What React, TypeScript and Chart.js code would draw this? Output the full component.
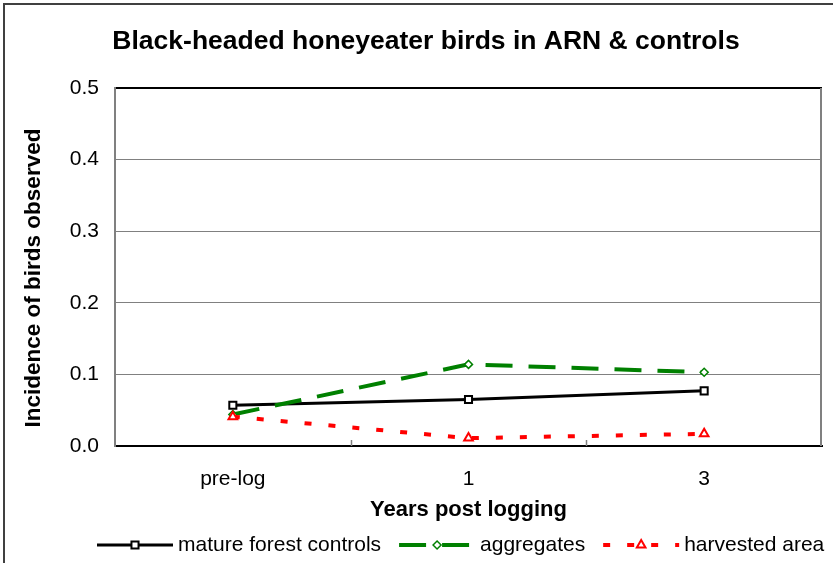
import React, { useEffect, useRef } from "react";
import { Chart, registerables } from "chart.js";

Chart.register(...registerables);

const categories = ["pre-log", "1", "3"];
const matureForest = [0.057, 0.065, 0.077];
const aggregates = [0.044, 0.114, 0.103];
const harvested = [0.041, 0.011, 0.017];
const yTicks = [0, 0.1, 0.2, 0.3, 0.4, 0.5];

const titleText = "Black-headed honeyeater birds in ARN & controls";
const yTitleText = "Incidence of birds observed";
const FONT = "'Liberation Sans', Arial, sans-serif";

function drawMarker(ctx: CanvasRenderingContext2D, style: string, r: number, x: number, y: number) {
  ctx.beginPath();
  if (style === "rect") {
    const s = Math.SQRT1_2 * r;
    ctx.rect(x - s, y - s, 2 * s, 2 * s);
  } else if (style === "rectRot") {
    ctx.moveTo(x, y - r);
    ctx.lineTo(x + r, y);
    ctx.lineTo(x, y + r);
    ctx.lineTo(x - r, y);
    ctx.closePath();
  } else if (style === "triangle") {
    for (let k = 0; k < 3; k++) {
      const a = (k * 2 * Math.PI) / 3;
      const px = x + Math.sin(a) * r;
      const py = y - Math.cos(a) * r;
      if (k === 0) ctx.moveTo(px, py);
      else ctx.lineTo(px, py);
    }
    ctx.closePath();
  }
  ctx.fill();
  ctx.stroke();
}

const decorPlugin = {
  id: "decor",
  beforeDraw(chart: any) {
    const ctx = chart.ctx;
    ctx.save();
    ctx.fillStyle = "#fff";
    ctx.fillRect(0, 0, chart.width, chart.height);
    ctx.restore();
  },
  afterDraw(chart: any) {
    const ctx = chart.ctx;
    const area = chart.chartArea;
    const xs = chart.scales.x;
    ctx.save();
    // outer border
    ctx.strokeStyle = "#404040";
    ctx.lineWidth = 2;
    ctx.strokeRect(4, 4, 1000, 1000);
    // plot right border
    ctx.strokeStyle = "#808080";
    ctx.lineWidth = 2;
    ctx.beginPath();
    ctx.moveTo(area.right - 1, area.top);
    ctx.lineTo(area.right - 1, area.bottom);
    ctx.stroke();
    // x inner tick marks at category boundaries
    ctx.strokeStyle = "#808080";
    ctx.lineWidth = 1.5;
    for (let i = 1; i < categories.length; i++) {
      const x = Math.round((xs.getPixelForTick(i - 1) + xs.getPixelForTick(i)) / 2) + 0.5;
      ctx.beginPath();
      ctx.moveTo(x, area.bottom);
      ctx.lineTo(x, area.bottom - 6);
      ctx.stroke();
    }
    // title
    ctx.fillStyle = "#000";
    ctx.font = `bold 26.5px ${FONT}`;
    ctx.textAlign = "center";
    ctx.textBaseline = "middle";
    ctx.fillText(titleText, 426, 42);

    // y axis title
    ctx.save();
    ctx.translate(34, 278);
    ctx.rotate(-Math.PI / 2);
    ctx.font = `bold 22.5px ${FONT}`;
    ctx.textAlign = "center";
    ctx.textBaseline = "middle";
    ctx.fillText(yTitleText, 0, 0);
    ctx.restore();

    // legend
    const ly = 545;
    let lx = 97;
    const lineLen = 76;
    ctx.font = `21px ${FONT}`;
    ctx.textAlign = "left";
    ctx.textBaseline = "middle";
    chart.data.datasets.forEach((ds: any) => {
      ctx.save();
      ctx.strokeStyle = ds.borderColor;
      ctx.lineWidth = ds.borderWidth;
      ctx.lineCap = "butt";
      ctx.setLineDash(ds.borderDash || []);
      ctx.beginPath();
      ctx.moveTo(lx, ly);
      ctx.lineTo(lx + lineLen, ly);
      ctx.stroke();
      ctx.restore();
      ctx.save();
      ctx.strokeStyle = ds.pointBorderColor;
      ctx.fillStyle = ds.pointBackgroundColor;
      ctx.lineWidth = ds.pointBorderWidth;
      drawMarker(ctx, ds.pointStyle, ds.pointRadius, lx + lineLen / 2, ly);
      ctx.restore();
      ctx.fillStyle = "#000";
      ctx.fillText(ds.label, lx + lineLen + 5, ly);
      lx += lineLen + 5 + ctx.measureText(ds.label).width + 18;
    });
    ctx.restore();
  },
};

export default function App() {
  const ref = useRef<HTMLCanvasElement | null>(null);
  useEffect(() => {
    if (!ref.current) return;
    Chart.defaults.font.family = FONT;
    Chart.defaults.color = "#000";
    const chart = new Chart(ref.current, {
      type: "line",
      data: {
        labels: categories,
        datasets: [
          {
            label: "mature forest controls",
            data: matureForest,
            borderColor: "#000000",
            borderWidth: 3,
            borderDash: [],
            pointStyle: "rect",
            pointRadius: 5,
            pointBorderWidth: 2,
            pointBorderColor: "#000000",
            pointBackgroundColor: "#ffffff",
            tension: 0,
            order: 3,
          },
          {
            label: "aggregates",
            data: aggregates,
            borderColor: "#008000",
            borderWidth: 4,
            borderDash: [27, 16],
            pointStyle: "rectRot",
            pointRadius: 4,
            pointBorderWidth: 1.5,
            pointBorderColor: "#008000",
            pointBackgroundColor: "#ffffff",
            tension: 0,
            order: 2,
          },
          {
            label: "harvested area",
            data: harvested,
            borderColor: "#ff0000",
            borderWidth: 4,
            borderDash: [7, 17],
            pointStyle: "triangle",
            pointRadius: 5,
            pointBorderWidth: 2,
            pointBorderColor: "#ff0000",
            pointBackgroundColor: "#ffffff",
            tension: 0,
            order: 1,
          },
        ] as any,
      },
      options: {
        animation: false,
        responsive: false,
        devicePixelRatio: 1,
        layout: { padding: { left: 0, right: 11, top: 88, bottom: 0 } },
        plugins: {
          legend: { display: false },
          title: { display: false },
          tooltip: { enabled: false },
        },
        scales: {
          x: {
            type: "category",
            offset: true,
            grid: { display: false },
            border: { display: true, color: "#000", width: 2 },
            ticks: { font: { size: 21 }, color: "#000", padding: 13, maxRotation: 0 },
            title: {
              display: true,
              text: "Years post logging",
              font: { size: 22, weight: "bold" },
              color: "#000",
              padding: { top: 0, bottom: 40 },
            },
            afterFit: (s: any) => {
              s.height = 117;
            },
          },
          y: {
            min: 0,
            max: 0.5,
            afterBuildTicks: (s: any) => {
              s.ticks = yTicks.map((v) => ({ value: v }));
            },
            grid: {
              drawTicks: false,
              color: (c: any) =>
                c.tick && c.tick.value === 0 ? "rgba(0,0,0,0)" : c.tick && c.tick.value === 0.5 ? "#000" : "#808080",
              lineWidth: (c: any) => (c.tick && c.tick.value === 0.5 ? 2 : 1),
            },
            border: { display: true, color: "#808080", width: 2 },
            ticks: {
              font: { size: 21 },
              color: "#000",
              padding: 16,
              callback: (v: any) => Number(v).toFixed(1),
            },
            title: { display: false },
            afterFit: (s: any) => {
              s.width = 115;
            },
          },
        },
      },
      plugins: [decorPlugin],
    });
    return () => chart.destroy();
  }, []);
  return (
    <div style={{ position: "fixed", left: 0, top: 0, width: 833, height: 563, overflow: "hidden", background: "#fff" }}>
      <canvas ref={ref} width={833} height={563} style={{ width: 833, height: 563, display: "block" }} />
    </div>
  );
}
